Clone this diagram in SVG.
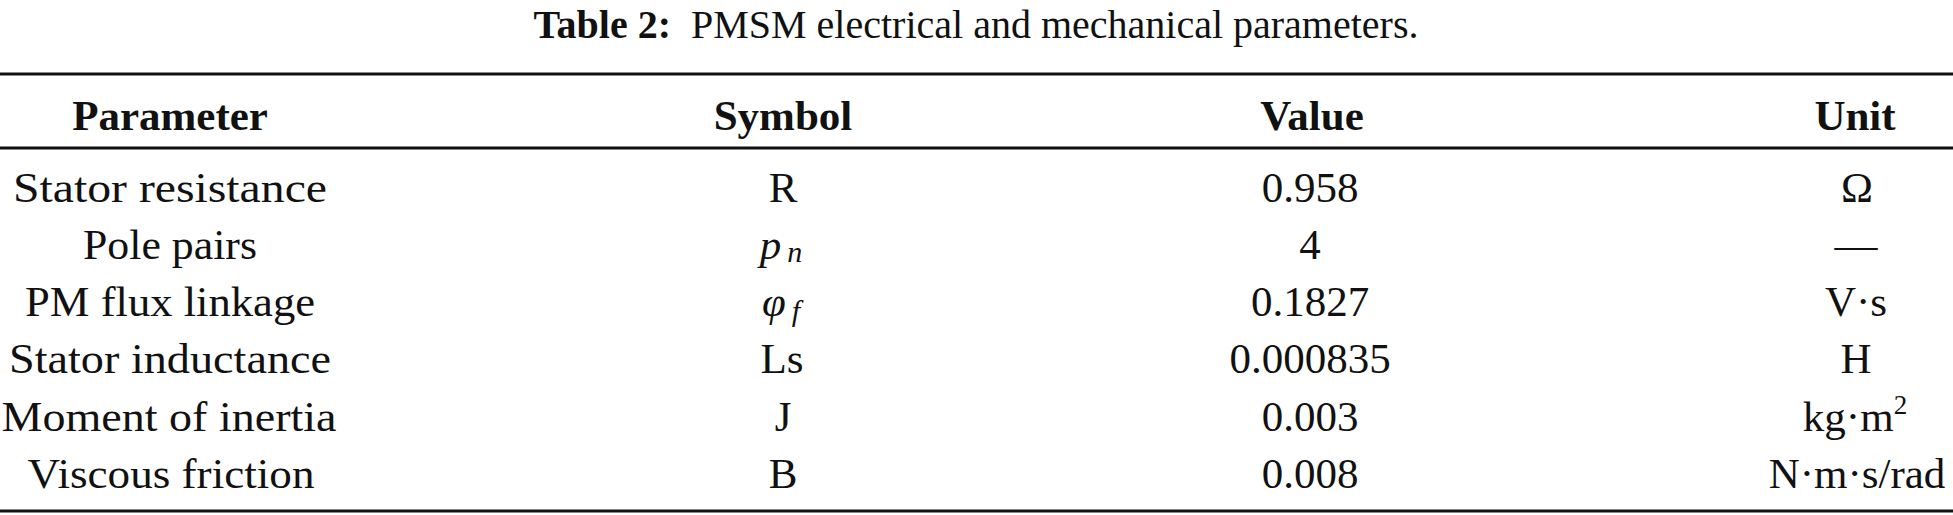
<svg xmlns="http://www.w3.org/2000/svg" width="1953" height="515" viewBox="0 0 1953 515">
<style>
text{font-family:"Liberation Serif","Times New Roman",serif;fill:#111;text-anchor:middle}
.t{font-size:40px}
.h{font-size:43px;font-weight:bold}
.c{font-size:43px}
.i{font-style:italic}
.s{font-size:30px;font-style:italic}
.rule{stroke:#111;stroke-width:3}
</style>
<rect width="1953" height="515" fill="#fff"/>
<g id="title"><text class="t" x="976" y="38"><tspan font-weight="bold">Table 2:</tspan><tspan dx="20">PMSM electrical and mechanical parameters.</tspan></text></g>
<g id="rules">
<line class="rule" x1="0" y1="74" x2="1953" y2="74"/>
<line class="rule" x1="0" y1="148" x2="1953" y2="148"/>
<line class="rule" x1="0" y1="511" x2="1953" y2="511"/>
</g>
<g id="header">
<text class="h" x="170" y="130">Parameter</text>
<text class="h" x="783" y="130">Symbol</text>
<text class="h" x="1312" y="130">Value</text>
<text class="h" x="1855" y="130">Unit</text>
</g>
<g id="row1"><text class="c" x="170" y="202" textLength="314" lengthAdjust="spacingAndGlyphs">Stator resistance</text><text class="c" x="783" y="202">R</text><text class="c" x="1310" y="202">0.958</text><text class="c" x="1857" y="202">Ω</text></g>
<g id="row2"><text class="c" x="170" y="259" textLength="174" lengthAdjust="spacingAndGlyphs">Pole pairs</text><text class="c" x="781" y="259"><tspan class="i">p</tspan><tspan class="s" dx="6" dy="3">n</tspan></text><text class="c" x="1310" y="259">4</text><text class="c" x="1856" y="259">—</text></g>
<g id="row3"><text class="c" x="170" y="316" textLength="290" lengthAdjust="spacingAndGlyphs">PM flux linkage</text><text class="c" x="781" y="316"><tspan class="i">φ</tspan><tspan class="s" dx="6" dy="5">f</tspan></text><text class="c" x="1310" y="316">0.1827</text><text class="c" x="1856" y="316">V·s</text></g>
<g id="row4"><text class="c" x="170" y="373" textLength="322" lengthAdjust="spacingAndGlyphs">Stator inductance</text><text class="c" x="782" y="373">Ls</text><text class="c" x="1310" y="373">0.000835</text><text class="c" x="1856" y="373">H</text></g>
<g id="row5"><text class="c" x="169" y="431" textLength="335" lengthAdjust="spacingAndGlyphs">Moment of inertia</text><text class="c" x="783" y="431">J</text><text class="c" x="1310" y="431">0.003</text><text class="c" x="1855" y="431">kg·m<tspan font-size="27px" dy="-17">2</tspan></text></g>
<g id="row6"><text class="c" x="171" y="488" textLength="287" lengthAdjust="spacingAndGlyphs">Viscous friction</text><text class="c" x="783" y="488">B</text><text class="c" x="1310" y="488">0.008</text><text class="c" x="1857" y="488">N·m·s/rad</text></g>
</svg>
